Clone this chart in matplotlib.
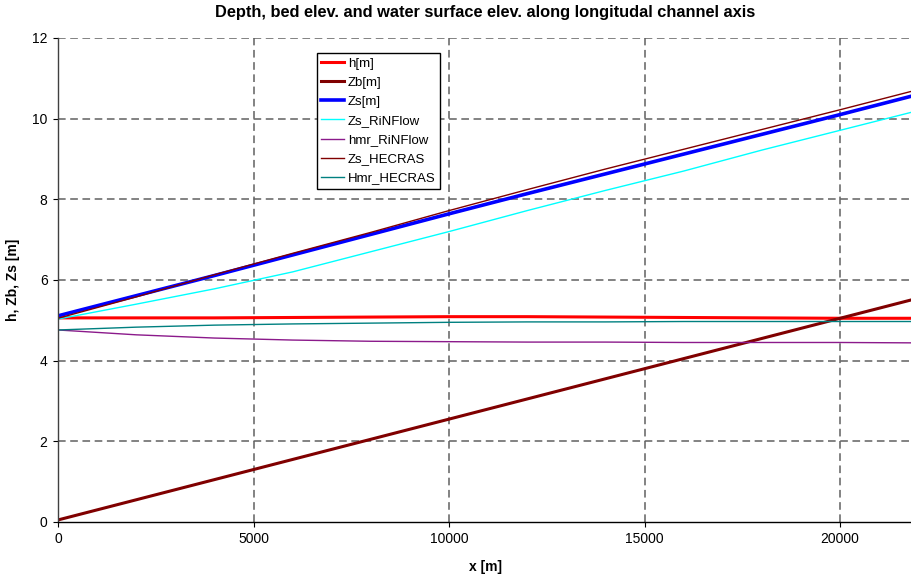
import numpy as np
from matplotlib import pyplot as plt

# 全局绘图设置
plt.rcParams.update({
    "font.family": ["Liberation Sans", "DejaVu Sans"],
    "font.size": 10,
    "axes.linewidth": 1.0,
    "xtick.direction": "out",
    "ytick.direction": "out",
    "xtick.major.size": 3.5,
    "ytick.major.size": 3.5,
})

# 沿程坐标 x [m]
x = [0, 2000, 4000, 6000, 8000, 10000, 12000, 14000, 16000, 18000, 20000, 22000]

# 计算结果
h = [5.06, 5.06, 5.06, 5.07, 5.08, 5.09, 5.09, 5.08, 5.07, 5.06, 5.05, 5.05]
zb = [0.05, 0.55, 1.05, 1.55, 2.05, 2.55, 3.05, 3.55, 4.05, 4.55, 5.05, 5.55]
zs = [5.11, 5.61, 6.11, 6.62, 7.13, 7.64, 8.14, 8.63, 9.12, 9.61, 10.10, 10.60]

# 对比结果 RiNFlow / HEC-RAS
zs_rinflow = [5.03, 5.40, 5.78, 6.20, 6.70, 7.20, 7.72, 8.22, 8.70, 9.22, 9.71, 10.20]
hmr_rinflow = [4.76, 4.64, 4.56, 4.51, 4.48, 4.47, 4.46, 4.46, 4.45, 4.45, 4.45, 4.44]
zs_hecras = [5.05, 5.58, 6.13, 6.66, 7.18, 7.72, 8.24, 8.75, 9.24, 9.73, 10.22, 10.72]
hmr_hecras = [4.76, 4.83, 4.88, 4.91, 4.93, 4.95, 4.96, 4.96, 4.97, 4.97, 4.97, 4.97]

fig = plt.figure(figsize=(9.12, 5.76), dpi=100)
ax = fig.add_axes([0.0636, 0.0938, 0.9364, 0.8403])

ax.plot(x, h, color="#ff0000", lw=2.2, label="h[m]")
ax.plot(x, zb, color="#800000", lw=2.2, label="Zb[m]")
ax.plot(x, zs, color="#0000ff", lw=2.6, label="Zs[m]")
ax.plot(x, zs_rinflow, color="#00ffff", lw=1.0, label="Zs_RiNFlow")
ax.plot(x, hmr_rinflow, color="#8b1a8b", lw=1.0, label="hmr_RiNFlow")
ax.plot(x, zs_hecras, color="#800000", lw=1.0, label="Zs_HECRAS")
ax.plot(x, hmr_hecras, color="#008080", lw=1.0, label="Hmr_HECRAS")

ax.set_xlim(0, 21840)
ax.set_ylim(0, 12)
ax.set_xticks([0, 5000, 10000, 15000, 20000])
ax.set_yticks([0, 2, 4, 6, 8, 10, 12])
ax.tick_params(top=False, right=False, pad=4)

# 网格虚线（坐标轴处不画）
ax.grid(True, color="#606060", linestyle=(0, (5, 3)), linewidth=1.1)
ax.set_axisbelow(True)
ax.xaxis.get_gridlines()[0].set_visible(False)
ax.yaxis.get_gridlines()[0].set_visible(False)
ax.spines["top"].set_visible(False)
ax.spines["right"].set_visible(False)
ax.spines["left"].set_color("#404040")

ax.set_title("Depth, bed elev. and water surface elev. along longitudal channel axis",
             fontsize=11.8, fontweight="bold", pad=15)
ax.set_xlabel("x [m]", fontweight="bold", labelpad=10)
ax.set_ylabel("h, Zb, Zs [m]", fontweight="bold", labelpad=9)

leg = ax.legend(loc="upper left", bbox_to_anchor=(0.303, 0.969), borderaxespad=0,
                fontsize=9.5, handlelength=1.75, handletextpad=0.25,
                labelspacing=0.52, borderpad=0.35, fancybox=False,
                framealpha=1, edgecolor="black")
leg.get_frame().set_linewidth(1.0)

fig.savefig("out.png", dpi=100)
